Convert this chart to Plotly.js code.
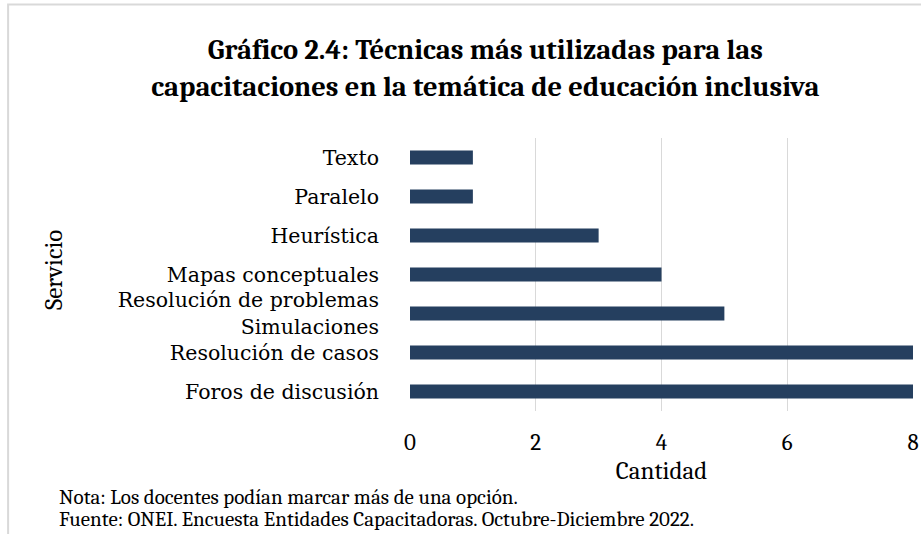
<!DOCTYPE html>
<html>
<head>
<meta charset="utf-8">
<script src="https://cdn.plot.ly/plotly-3.0.1.min.js"></script>
<style>html,body{margin:0;padding:0;background:#fff;}#chart{width:921px;height:534px;}</style>
</head>
<body>
<div id="chart"></div>
<script>
const categories = ["Texto", "Paralelo", "Heurística", "Mapas conceptuales", "Resolución de problemas<br>Simulaciones", "Resolución de casos", "Foros de discusión"];
const values = [1, 1, 3, 4, 5, 8, 8];
const tickValues = [0, 2, 4, 6, 8];
const tickLabels = ["0", "2", "4", "6", "8"];

const serif = "Cambria, 'Liberation Serif', 'DejaVu Serif', serif";
const frame = "#d9d9d9";

const trace = {
  type: "bar",
  orientation: "h",
  x: values,
  y: categories,
  marker: {color: "#253f5f"},
  hoverinfo: "x+y"
};

const layout = {
  width: 921,
  height: 534,
  margin: {l: 410, r: 8, t: 138, b: 123},
  paper_bgcolor: "#ffffff",
  plot_bgcolor: "#ffffff",
  showlegend: false,
  bargap: 0.64,
  font: {family: serif, color: "#000000", size: 21},
  title: {
    text: "<b>Gráfico 2.4: Técnicas más utilizadas para las<br>capacitaciones en la temática de educación inclusiva</b>",
    font: {family: serif, size: 28.5, color: "#000000"},
    x: 0.527, xanchor: "center",
    y: 0.89, yanchor: "top",
    xref: "container", yref: "container"
  },
  xaxis: {
    range: [0, 8],
    tickvals: tickValues,
    ticktext: tickLabels,
    showgrid: true,
    gridcolor: "#d9d9d9",
    gridwidth: 1.3,
    zeroline: false,
    showline: false,
    ticks: "",
    ticklabelstandoff: 15,
    tickfont: {family: serif, size: 23, color: "#000000"},
    title: {text: "Cantidad", standoff: 6, font: {family: serif, size: 25, color: "#000000"}}
  },
  yaxis: {
    autorange: "reversed",
    showgrid: false,
    zeroline: false,
    showline: false,
    ticks: "",
    ticklabelstandoff: 30,
    tickfont: {family: "'DejaVu Serif', serif", size: 20.5, color: "#000000"}
  },
  annotations: [
    {text: "Servicio", xref: "paper", yref: "paper", x: -0.71, y: 0.516, xanchor: "center", yanchor: "middle", textangle: -90, showarrow: false, font: {family: serif, size: 25, color: "#000"}},
    {text: "Nota: Los docentes podían marcar más de una opción.", xref: "paper", yref: "paper", x: -0.702, y: -0.315, xanchor: "left", yanchor: "middle", showarrow: false, font: {family: serif, size: 21, color: "#000"}},
    {text: "Fuente: ONEI. Encuesta Entidades Capacitadoras. Octubre-Diciembre 2022.", xref: "paper", yref: "paper", x: -0.702, y: -0.394, xanchor: "left", yanchor: "middle", showarrow: false, font: {family: serif, size: 21, color: "#000"}}
  ],
  shapes: [
    {type: "path", xref: "paper", yref: "paper", path: "M -0.799,-0.47 L -0.799,1.489 L 1.05,1.489", line: {color: frame, width: 2}}
  ]
};

Plotly.newPlot("chart", [trace], layout, {displayModeBar: false, staticPlot: true});
</script>
</body>
</html>
